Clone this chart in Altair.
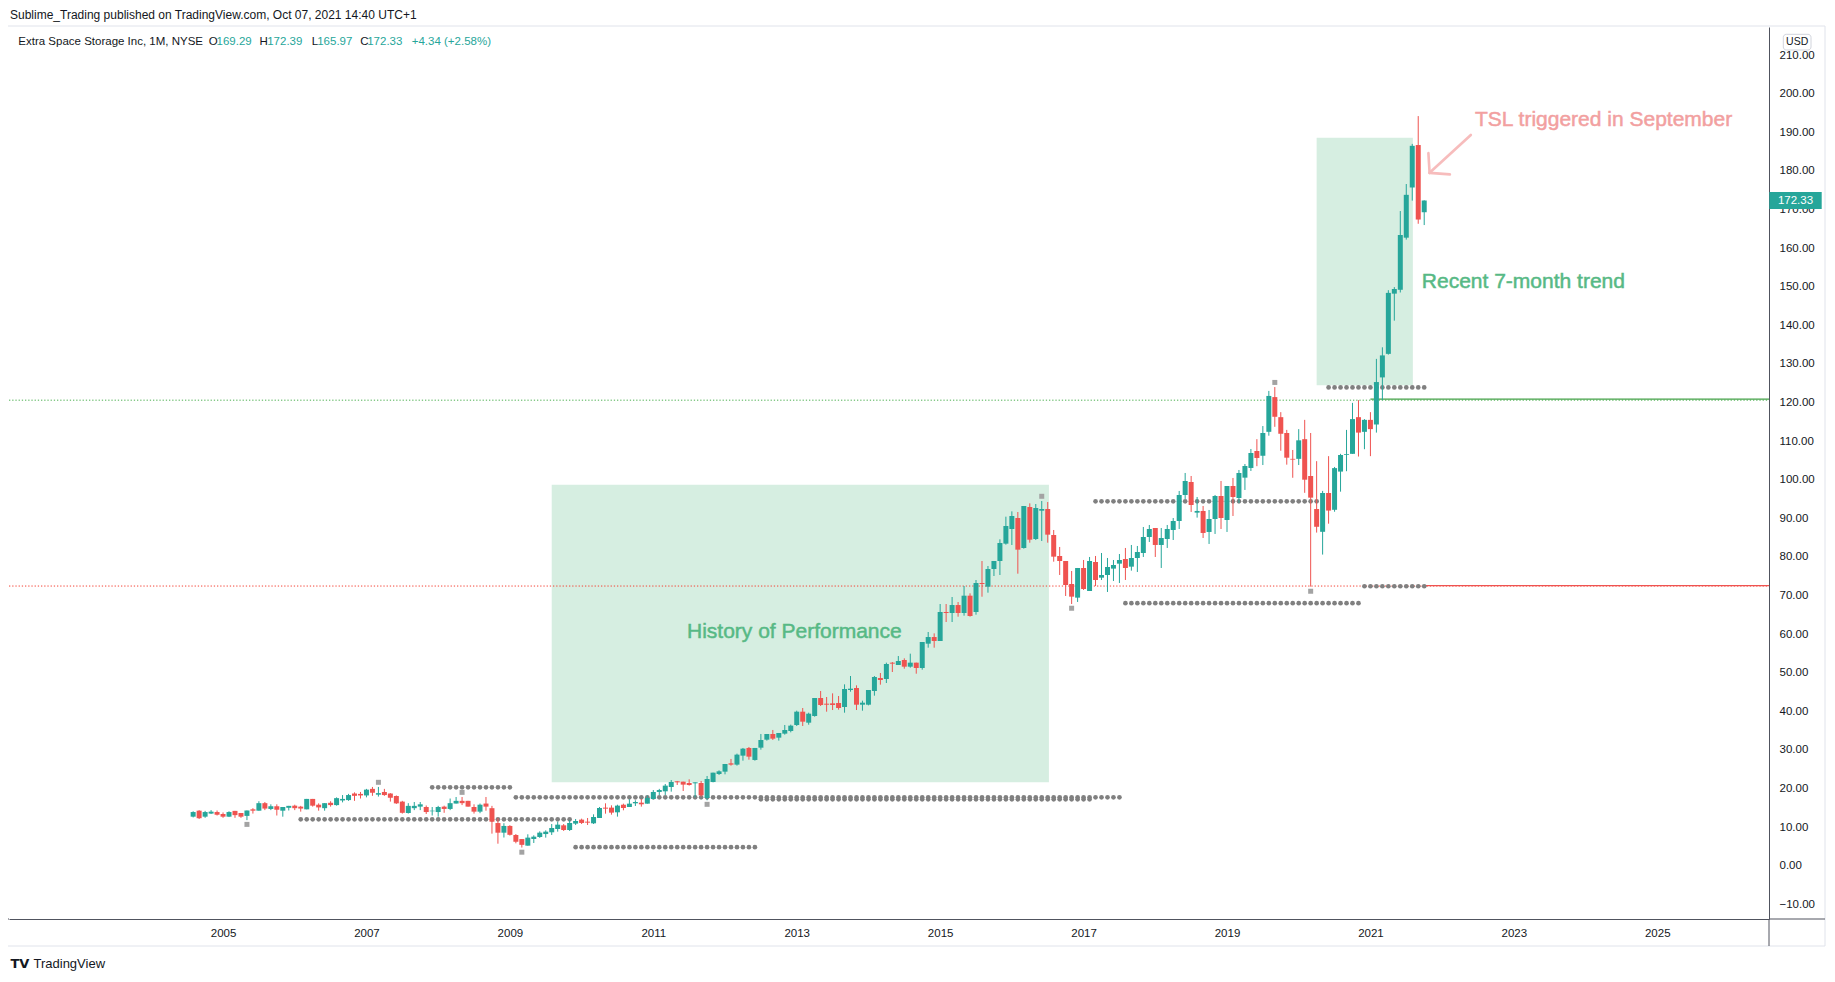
import altair as alt
import pandas as pd

# ---------------- data (monthly candles, t = 0 is Aug 2004, t = 206 is Oct 2021) ----------------
OPEN = [12.7, 14.25, 12.7, 13.5, 13.9, 13.4, 12.7, 14.2, 13.65, 12.9,
        14.6, 14.25, 16.2, 14.7, 15.4, 14.25, 15.0, 15.55, 15.3, 14.6,
        17.3, 15.8, 14.9, 16.3, 15.7, 16.9, 17.0, 18.7, 18.6, 18.2,
        19.9, 18.4, 19.1, 18.7, 18.05, 16.6, 13.65, 14.9, 15.3, 15.2,
        14.1, 13.9, 15.3, 14.7, 16.1, 16.8, 16.8, 15.2, 14.0, 16.1,
        14.9, 11.05, 8.55, 10.3, 7.95, 6.9, 5.19, 6.92, 7.44, 8.2,
        8.65, 9.5, 10.46, 9.25, 10.9, 11.93, 11.41, 10.98, 12.36, 15.04,
        15.04, 13.83, 15.8, 15.21, 16.16, 16.33, 16.07, 17.28, 19.1, 19.27,
        20.39, 21.86, 21.77, 21.43, 21.34, 21.43, 17.54, 21.69, 23.76, 24.36,
        26.52, 26.18, 28.51, 30.5, 27.39, 30.58, 32.65, 34.12, 33.17, 34.21,
        34.9, 36.45, 39.9, 37.05, 38.78, 43.44, 41.97, 42.06, 42.15, 41.11,
        45.51, 46.03, 41.71, 41.71, 45.25, 48.62, 48.36, 52.6, 51.99, 53.29,
        51.56, 52.6, 51.21, 57.52, 59.24, 58.21, 65.72, 65.46, 67.53, 65.46,
        69.95, 65.72, 73.24, 72.28, 76.86, 78.93, 83.43, 87.23, 90.07, 82.3,
        92.92, 84.63, 91.97, 92.41, 85.67, 80.24, 78.94, 72.98, 69.44, 77.13,
        71.17, 78.68, 74.62, 75.31, 76.96, 78.25, 79.46, 77.47, 79.72, 81.01,
        85.16, 87.49, 83.09, 84.64, 86.97, 89.3, 96.04, 99.41, 91.46, 91.9,
        86.46, 89.82, 95.78, 89.56, 98.37, 95.26, 100.53, 103.04, 107.44, 106.2,
        112.4, 121.4, 116.2, 112.1, 105.4, 105.4, 110.5, 100.96, 92.4, 86.5,
        96.55, 92.2, 102.1, 106.4, 106.7, 116.2, 112.4, 115.5, 114.3, 126.5,
        132.6, 148.2, 149.2, 162.7, 175.7, 186.7, 169.29]
HIGH = [14.1, 14.4, 14.2, 14.4, 14.3, 13.8, 14.1, 14.2, 13.65, 14.3,
        14.9, 16.7, 16.5, 15.9, 15.9, 15.2, 15.5, 15.8, 15.5, 17.3,
        17.3, 16.15, 16.2, 16.7, 17.7, 18.3, 18.6, 19.0, 19.1, 19.9,
        20.4, 20.4, 19.9, 18.8, 18.2, 16.8, 16.2, 16.5, 16.5, 15.6,
        15.2, 15.5, 15.55, 17.4, 17.8, 17.8, 16.8, 15.9, 16.1, 17.8,
        15.5, 12.3, 11.0, 10.5, 8.2, 6.9, 8.13, 7.87, 8.9, 9.16,
        10.8, 11.4, 10.8, 11.84, 12.1, 12.19, 12.36, 13.31, 15.21, 16.16,
        15.64, 15.8, 16.07, 17.2, 16.94, 17.28, 18.15, 19.6, 19.9, 21.17,
        22.2, 21.95, 21.77, 22.38, 21.6, 21.95, 23.24, 24.1, 24.71, 26.35,
        27.65, 29.03, 30.5, 30.75, 30.5, 34.12, 34.12, 35.16, 34.38, 36.45,
        36.54, 40.16, 40.85, 39.64, 43.44, 45.26, 43.7, 44.65, 43.96, 46.98,
        49.14, 46.72, 42.75, 45.51, 49.14, 49.92, 52.6, 52.77, 54.32, 53.72,
        54.93, 52.6, 57.95, 60.54, 60.19, 67.79, 67.79, 69.61, 68.31, 72.46,
        70.56, 74.01, 78.93, 77.64, 78.93, 84.55, 90.42, 91.8, 91.63, 93.18,
        93.87, 93.7, 94.48, 94.22, 86.97, 82.57, 78.94, 76.35, 77.13, 79.2,
        79.98, 80.24, 81.01, 79.72, 79.2, 80.75, 82.31, 83.09, 82.83, 87.75,
        88.27, 87.49, 87.49, 88.27, 90.08, 97.08, 101.74, 100.96, 95.52, 93.19,
        92.16, 96.04, 99.67, 98.37, 100.45, 102.52, 104.07, 107.96, 110.5, 113.9,
        123.0, 124.0, 117.5, 112.9, 107.7, 113.1, 115.5, 112.1, 104.8, 97.1,
        106.1, 103.3, 106.7, 112.9, 119.9, 120.6, 115.7, 117.5, 131.3, 134.3,
        149.1, 149.9, 169.6, 176.6, 187.0, 194.2, 172.39]
LOW = [12.5, 12.1, 12.4, 13.4, 13.0, 12.4, 12.6, 12.4, 12.4, 11.8,
       13.5, 14.25, 14.4, 14.4, 13.0, 12.7, 14.3, 14.4, 14.0, 14.6,
       15.3, 14.25, 14.25, 15.3, 15.55, 16.4, 16.8, 16.8, 17.4, 17.7,
       18.1, 17.9, 18.1, 16.6, 16.0, 13.5, 13.5, 14.4, 14.4, 13.4,
       13.0, 12.7, 13.7, 14.4, 16.1, 15.7, 15.3, 13.5, 13.6, 14.25,
       8.3, 5.7, 7.3, 7.8, 5.8, 4.7, 5.19, 5.88, 7.2, 7.27,
       7.96, 8.82, 9.0, 9.0, 10.55, 10.8, 10.55, 10.8, 12.36, 13.48,
       13.22, 12.71, 14.35, 15.21, 15.47, 15.3, 16.07, 17.2, 18.32, 18.32,
       19.18, 20.91, 19.35, 20.74, 17.71, 17.89, 16.94, 21.6, 23.5, 23.67,
       25.92, 25.92, 27.21, 27.47, 27.21, 30.06, 32.4, 32.57, 32.4, 33.95,
       34.55, 36.19, 36.19, 36.53, 38.6, 41.37, 39.9, 40.33, 40.42, 39.64,
       45.08, 40.33, 40.16, 41.54, 44.05, 46.9, 47.33, 50.18, 51.99, 51.04,
       51.3, 49.74, 50.78, 56.48, 56.48, 58.21, 63.13, 63.13, 64.51, 64.77,
       64.51, 65.03, 69.69, 70.73, 75.05, 75.31, 83.17, 83.08, 75.65, 82.13,
       83.68, 84.37, 84.12, 83.68, 78.76, 75.31, 69.87, 67.8, 68.32, 71.43,
       71.17, 72.46, 74.02, 70.91, 73.76, 73.24, 74.02, 76.44, 76.09, 79.98,
       83.86, 79.98, 77.13, 82.31, 84.38, 87.23, 95.0, 91.64, 90.17, 84.9,
       83.35, 85.94, 87.23, 86.46, 90.6, 93.97, 97.34, 102.26, 103.5, 103.8,
       111.4, 113.7, 107.5, 103.9, 100.5, 103.8, 96.6, 72.3, 86.3, 80.6,
       88.6, 91.7, 96.9, 102.2, 106.7, 106.0, 107.9, 106.1, 112.2, 120.6,
       132.4, 141.2, 148.5, 162.2, 172.3, 166.3, 165.97]
CLOSE = [13.9, 12.3, 13.9, 14.0, 13.2, 12.7, 13.9, 13.1, 12.7, 14.3,
         14.25, 16.2, 14.8, 15.4, 14.5, 15.2, 15.5, 14.9, 14.8, 17.3,
         15.55, 15.1, 16.2, 15.7, 17.5, 17.3, 18.3, 18.1, 18.2, 19.7,
         18.9, 18.8, 18.3, 17.6, 16.15, 13.7, 15.5, 15.5, 15.9, 13.9,
         14.25, 15.2, 14.7, 16.2, 16.8, 16.2, 15.3, 14.0, 15.8, 15.3,
         11.4, 8.55, 10.3, 8.0, 6.2, 5.4, 7.27, 7.52, 8.56, 8.82,
         9.77, 10.63, 9.25, 11.07, 11.58, 11.07, 11.15, 12.62, 14.95, 14.78,
         13.74, 15.56, 14.95, 16.07, 16.5, 15.9, 17.54, 19.1, 19.6, 20.74,
         21.69, 21.6, 21.0, 20.91, 21.6, 18.23, 22.46, 24.1, 24.45, 26.35,
         26.18, 28.77, 30.32, 28.25, 30.5, 32.57, 34.12, 32.91, 34.38, 35.16,
         36.28, 39.9, 37.31, 39.38, 43.44, 41.63, 41.71, 41.63, 40.85, 45.77,
         45.86, 41.71, 42.23, 45.51, 48.88, 48.1, 52.25, 52.34, 53.03, 51.56,
         52.6, 51.21, 57.95, 59.24, 58.21, 65.72, 65.46, 67.53, 65.46, 69.95,
         64.68, 73.24, 72.98, 76.86, 78.93, 83.6, 88.0, 90.59, 81.87, 93.18,
         84.46, 92.67, 92.41, 85.76, 80.06, 78.94, 72.72, 69.7, 77.13, 71.69,
         78.94, 74.02, 75.31, 77.39, 77.9, 79.2, 77.13, 79.72, 81.27, 85.16,
         87.23, 83.09, 84.9, 87.23, 89.3, 96.04, 99.67, 93.45, 91.9, 86.2,
         89.82, 95.78, 90.08, 98.37, 95.52, 101.74, 103.55, 106.92, 105.63, 112.1,
         121.7, 116.3, 111.9, 105.7, 105.2, 110.2, 100.0, 95.35, 87.8, 96.55,
         92.0, 103.0, 106.4, 106.6, 115.7, 112.2, 115.5, 113.1, 125.3, 132.2,
         148.4, 149.4, 163.4, 173.8, 186.5, 167.4, 172.33]

YEARS = [2005, 2007, 2009, 2011, 2013, 2015, 2017, 2019, 2021, 2023, 2025]
Y_TICKS = list(range(-10, 211, 10))

HEADER = "Sublime_Trading published on TradingView.com, Oct 07, 2021 14:40 UTC+1"
LEGEND_TEXT = ["Extra Space Storage Inc, 1M, NYSE", "O", "169.29", "H", "172.39",
               "L", "165.97", "C", "172.33", "+4.34 (+2.58%)"]
LEGEND_X = [18.3, 208.8, 216.5, 259.5, 267.2, 311.8, 317.2, 360.2, 367.2, 411.7]
LEGEND_IS_VALUE = [False, False, True, False, True, False, True, False, True, True]

# highlight boxes (t from, t to, price from, price to)
BOX_T1 = [60.0, 188.0]
BOX_T2 = [143.2, 204.1]
BOX_V1 = [21.6, 124.5]
BOX_V2 = [98.7, 188.6]

NOTE_TEXT = ["History of Performance", "Recent 7-month trend", "TSL triggered in September"]
NOTE_T = [100.6, 205.6, 214.5]
NOTE_V = [60.5, 151.1, 193.3]
NOTE_COLOR = ["#57b985", "#57b985", "#f2a0a0"]
NOTE_ALIGN = ["center", "left", "left"]

# arrow segments (t, price) -> (t2, price2)
ARROW_T = [213.8, 206.9, 206.9]
ARROW_V = [189.3, 179.5, 179.5]
ARROW_T2 = [206.9, 206.7, 210.3]
ARROW_V2 = [179.5, 184.6, 179.1]

GREEN_LEVEL = 120.6
RED_LEVEL = 72.45
GREEN_SOLID_FROM = 197
RED_SOLID_FROM = 206

# grey dotted pivot levels: start t, end t, price
DOT_START = [18, 40, 54, 95, 64, 151, 156, 190, 196]
DOT_END = [63, 53, 155, 150, 94, 188, 195, 206, 206]
DOT_LEVEL = [12.0, 20.3, 17.7, 17.2, 4.8, 94.4, 68.0, 123.9, 72.4]

PIVOT_T = [9, 31, 45, 55, 86, 142, 147, 181, 187]
PIVOT_V = [10.7, 21.6, 19.0, 3.5, 15.9, 95.7, 66.7, 125.2, 71.1]

# ---------------- layout ----------------
W, H = 1760, 892
X_DOMAIN = [-29.98, 262.86]
Y_DOMAIN = [-13.81, 217.28]
UP = "#26a69a"
DOWN = "#ef5350"
FONT = "Liberation Sans"
TEXT_DARK = "#131722"
AXIS_LINE = "#50535e"

xs = alt.Scale(domain=X_DOMAIN, nice=False, zero=False)
ys = alt.Scale(domain=Y_DOMAIN, nice=False, zero=False)

# identical axis definitions are used in every layer so that the shared axes merge cleanly
x_axis = alt.Axis(values=[(y - 2004) * 12 - 7 for y in YEARS],
                  labelExpr="toString(2004 + (datum.value + 7) / 12)",
                  orient="bottom", ticks=False, tickSize=0, grid=False, title=None,
                  domainColor=AXIS_LINE, labelColor=TEXT_DARK, labelFontSize=11.5, labelFont=FONT,
                  labelPadding=14, labelBaseline="middle", labelOverlap=False, labelFlush=False)
y_axis = alt.Axis(values=Y_TICKS, format=".2f", orient="right", ticks=False, tickSize=0,
                  grid=False, title=None, domainColor=AXIS_LINE, labelColor=TEXT_DARK,
                  labelFontSize=11.5, labelFont=FONT, labelPadding=10, labelAlign="left",
                  labelBaseline="middle", labelOverlap=False, labelFlush=False)


def X(f):
    return alt.X(f, scale=xs, axis=x_axis)


def Y(f):
    return alt.Y(f, scale=ys, axis=y_axis)


one = pd.DataFrame({"a": [0]})

candles = pd.DataFrame({"t": list(range(len(CLOSE))), "open": OPEN, "high": HIGH,
                        "low": LOW, "close": CLOSE})
candles["dir"] = ["up" if c >= o else "down" for o, c in zip(OPEN, CLOSE)]
color = alt.Color("dir:N", scale=alt.Scale(domain=["up", "down"], range=[UP, DOWN]), legend=None)

layers = []

# candle wicks first (carries the axes)
layers.append(alt.Chart(candles).mark_rule(strokeWidth=1, opacity=0).encode(
    x=X("t:Q"), y=Y("low:Q"), y2="high:Q"))

# highlight boxes
boxes = pd.DataFrame({"t1": BOX_T1, "t2": BOX_T2, "v1": BOX_V1, "v2": BOX_V2})
layers.append(alt.Chart(boxes).mark_rect(color="#d6eee1").encode(
    x=X("t1:Q"), x2="t2:Q", y=Y("v1:Q"), y2="v2:Q"))

# horizontal levels
lv = pd.DataFrame({"v": [GREEN_LEVEL, RED_LEVEL], "c": ["#4caf50", "#f44336"]})
layers.append(alt.Chart(lv).mark_rule(strokeWidth=1, strokeDash=[1.3, 1.9]).encode(
    x=alt.value(0), x2=alt.value(W), y=Y("v:Q"), color=alt.Color("c:N", scale=None)))
solid = pd.DataFrame({"t": [GREEN_SOLID_FROM, RED_SOLID_FROM], "v": [GREEN_LEVEL + 0.25, RED_LEVEL + 0.1],
                      "c": ["#43a047", "#ef5350"]})
layers.append(alt.Chart(solid).mark_rule(strokeWidth=1.3).encode(
    x=X("t:Q"), x2=alt.value(W), y=Y("v:Q"), color=alt.Color("c:N", scale=None)))

# grey dot rows
dots_t, dots_v = [], []
for s, e, lvl in zip(DOT_START, DOT_END, DOT_LEVEL):
    for t in range(s, e + 1):
        dots_t.append(t)
        dots_v.append(lvl)
dots = pd.DataFrame({"t": dots_t, "v": dots_v})
layers.append(alt.Chart(dots).mark_circle(size=22, color="#808080", opacity=1).encode(
    x=X("t:Q"), y=Y("v:Q")))

# candles
layers.append(alt.Chart(candles).mark_rule(strokeWidth=1).encode(
    x=X("t:Q"), y=Y("low:Q"), y2="high:Q", color=color))
layers.append(alt.Chart(candles).mark_bar(size=5).encode(
    x=X("t:Q"), y=Y("open:Q"), y2="close:Q", color=color))

# pivot markers
piv = pd.DataFrame({"t": PIVOT_T, "v": PIVOT_V})
layers.append(alt.Chart(piv).mark_square(size=25, color="#a3a3a3", opacity=1).encode(
    x=X("t:Q"), y=Y("v:Q")))

# annotation texts
for txt, t, v, c, al in zip(NOTE_TEXT, NOTE_T, NOTE_V, NOTE_COLOR, NOTE_ALIGN):
    d = pd.DataFrame({"t": [t], "v": [v], "txt": [txt]})
    layers.append(alt.Chart(d).mark_text(font=FONT, fontSize=21, color=c, align=al,
                                         baseline="middle", stroke=c, strokeWidth=0.5).encode(
        x=X("t:Q"), y=Y("v:Q"), text="txt:N"))

# arrow
arr = pd.DataFrame({"t": ARROW_T, "v": ARROW_V, "t2": ARROW_T2, "v2": ARROW_V2})
layers.append(alt.Chart(arr).mark_rule(strokeWidth=2.6, color="#f7bcbc", strokeCap="round").encode(
    x=X("t:Q"), x2="t2:Q", y=Y("v:Q"), y2="v2:Q"))

# pane frame and axis extensions
layers.append(alt.Chart(one).mark_rect(fillOpacity=0, stroke="#e0e3eb", strokeWidth=1).encode(
    x=alt.value(-2), x2=alt.value(1816), y=alt.value(-1), y2=alt.value(919)))
layers.append(alt.Chart(one).mark_rule(color=AXIS_LINE, strokeWidth=1).encode(
    x=alt.value(W), x2=alt.value(1816), y=alt.value(H)))
layers.append(alt.Chart(one).mark_rule(color=AXIS_LINE, strokeWidth=1).encode(
    x=alt.value(W), y=alt.value(H), y2=alt.value(919)))
layers.append(alt.Chart(one).mark_rule(color=AXIS_LINE, strokeWidth=1).encode(
    x=alt.value(-2), x2=alt.value(0), y=alt.value(H)))

# last price label
last = CLOSE[-1]
lp = pd.DataFrame({"v": [last], "lo": [last - 2.2], "hi": [last + 2.2], "lab": [f"{last:.2f}"]})
layers.append(alt.Chart(lp).mark_rect(color=UP).encode(
    x=alt.value(W + 0.3), x2=alt.value(1812.7), y=Y("lo:Q"), y2="hi:Q"))
layers.append(alt.Chart(lp).mark_text(font=FONT, fontSize=11.5, color="white", align="center",
                                      baseline="middle").encode(
    x=alt.value(1786.5), y=Y("v:Q"), text="lab:N"))

# USD box
layers.append(alt.Chart(one).mark_rect(fill="white", stroke="#d1d4dc", strokeWidth=1,
                                       cornerRadius=3).encode(
    x=alt.value(1774.3), x2=alt.value(1802), y=alt.value(7.3), y2=alt.value(23)))
layers.append(alt.Chart(one).mark_text(text="USD", font=FONT, fontSize=10.5, color=TEXT_DARK,
                                       align="center", baseline="middle").encode(
    x=alt.value(1788.2), y=alt.value(15.3)))

# header lines
layers.append(alt.Chart(one).mark_text(text=HEADER, font=FONT, fontSize=12, color=TEXT_DARK,
                                       align="left", baseline="middle").encode(
    x=alt.value(1), y=alt.value(-12)))
for txt, px, isv in zip(LEGEND_TEXT, LEGEND_X, LEGEND_IS_VALUE):
    layers.append(alt.Chart(one).mark_text(text=txt, font=FONT, fontSize=11.5,
                                           color=UP if isv else TEXT_DARK,
                                           align="left", baseline="middle").encode(
        x=alt.value(px - 9), y=alt.value(14.7)))

# TradingView footer
layers.append(alt.Chart(one).mark_text(text="TV", font="DejaVu Sans", fontWeight="bold", fontSize=13,
                                       color=TEXT_DARK, align="left", baseline="middle").encode(
    x=alt.value(1.5), y=alt.value(937)))
layers.append(alt.Chart(one).mark_text(text="TradingView", font=FONT, fontSize=13, color=TEXT_DARK,
                                       align="left", baseline="middle").encode(
    x=alt.value(24.5), y=alt.value(937)))

chart = alt.layer(*layers).properties(
    width=W, height=H,
    padding={"left": 1, "top": 19, "right": 58, "bottom": 55},
    autosize=alt.AutoSizeParams(type="none"),
).configure_view(strokeWidth=0)

chart.save("out.html", embed_options={"renderer": "svg", "actions": False})
